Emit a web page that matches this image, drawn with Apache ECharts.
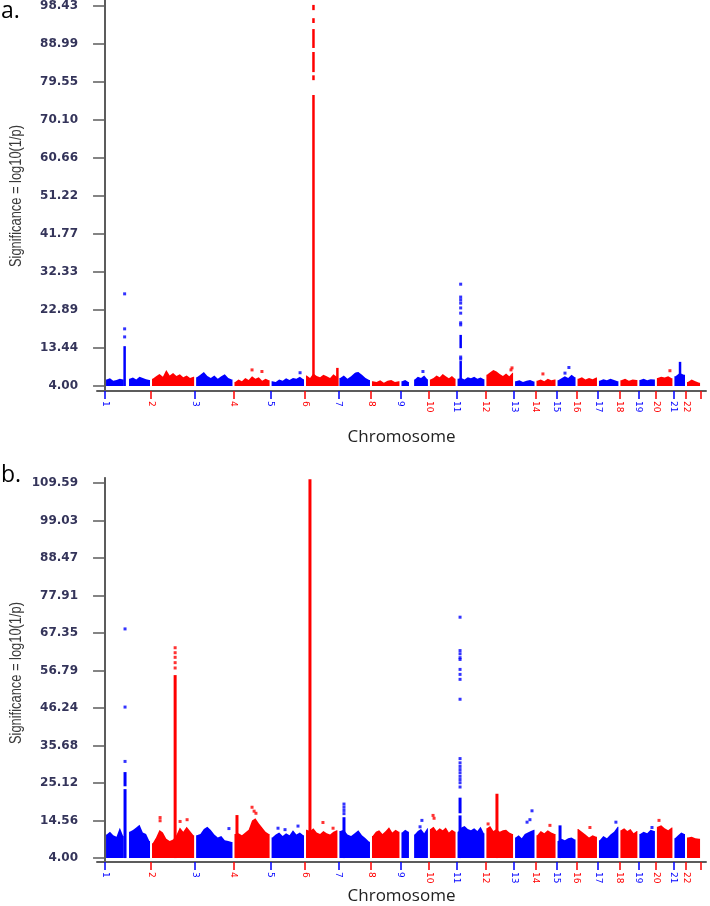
<!DOCTYPE html>
<html><head><meta charset="utf-8">
<script src="https://cdn.jsdelivr.net/npm/echarts@6/dist/echarts.min.js"></script>
<style>html,body{margin:0;padding:0;background:#fff}#c{width:710px;height:906px}</style>
</head><body><div id="c"></div>
<script>
// ---------------- data ----------------
const chromosomes = ['1','2','3','4','5','6','7','8','9','10','11','12','13','14','15','16','17','18','19','20','21','22'];
// cumulative genome position (Mb) at the start of each chromosome, plus end of chr22
const chrStarts = [0,223,437,623,803,970,1132,1290,1433,1571,1705,1845,1984,2088,2190,2287,2391,2495,2587,2672,2757,2818,2891];

const yTicksA = [4.00,13.44,22.89,32.33,41.77,51.22,60.66,70.10,79.55,88.99,98.43];
const yTicksB = [4.00,14.56,25.12,35.68,46.24,56.79,67.35,77.91,88.47,99.03,109.59];

// envelope of the dense band of SNPs in each chromosome (null = gap), panel a
const bandsA = [
  [5.6,5.9,5.3,5.5,5.8,5.6,null,5.8,6.1,5.6,6.3,6.0,5.7,5.5],
  [5.8,6.4,7.0,6.3,8.0,6.6,7.2,6.5,6.9,6.2,6.6,6.0,6.3],
  [6.2,6.8,7.5,6.5,6.0,6.6,5.8,6.4,6.9,6.0,5.6],
  [5.0,5.6,5.2,6.0,5.5,6.4,5.8,6.2,5.3,5.8,5.4],
  [5.2,5.0,5.6,5.3,5.9,5.5,6.0,5.8,6.3,5.7],
  [6.6,6.0,7.1,6.5,6.2,6.8,6.4,6.0,6.9,6.3],
  [6.0,6.6,5.8,6.4,7.2,7.5,6.8,6.0,5.5],
  [5.2,5.0,5.4,4.8,5.3,5.5,5.0,5.2],
  [5.2,5.5,5.0,null,5.6,6.3,6.0,6.6,5.7],
  [5.6,6.0,6.6,6.2,7.0,6.4,5.9,6.5,5.8],
  [5.8,6.0,5.6,6.2,5.9,6.3,5.8,6.1,5.7],
  [6.8,7.4,8.0,7.6,7.0,6.5,7.1,6.4,7.3],
  [5.2,5.4,5.0,5.3,5.5,5.1],
  [5.3,5.6,5.2,5.8,5.4,5.6],
  [5.4,5.9,6.4,6.0,6.8,6.2],
  [5.8,6.2,5.6,6.0,5.7,6.1],
  [5.3,5.7,5.4,5.8,5.5,5.2],
  [5.4,5.8,5.3,5.6,5.5],
  [5.5,5.8,5.4,5.7,5.6],
  [6.0,6.3,6.1,6.4,5.9],
  [6.4,7.2,6.8],
  [5.0,5.6,5.2,4.8]
];
// continuous runs of SNPs: [position, low, high], panel a
const spikesA = [
  [95,4,13.9],
  [1011,4,76.3],[1011,80,81.2],[1011,82,87],[1011,88,92.7],[1011,94.2,95.4],[1011,97.4,98.7],
  [1127,4,8.5],
  [1725,4,10.2],[1725,13.4,16.7],
  [2789,4,10.0]
];
// single SNPs: [position, significance], panel a
const dotsA = [
  [95,16.2],[95,18.2],[95,26.9],
  [713,8.0],[761,7.6],[946,7.3],[1222,7.0],[1542,7.6],
  [1725,10.7],[1725,11.2],[1725,19.2],[1725,19.7],[1725,22.1],[1725,23.4],[1725,24.6],[1725,25.4],[1725,26.1],[1725,29.3],
  [1974,8.5],[1969,8.0],[2124,7.0],[2250,8.6],[2231,7.2],[2740,7.8]
];

// panel b
const bandsB = [
  [10.6,11.4,10.4,10.0,12.5,10.2,null,11.4,11.9,12.6,13.4,11.2,10.8,8.8],
  [8.2,9.8,11.9,11.2,9.4,8.8,9.2,10.5,12.6,11.4,12.8,11.6,10.4],
  [10.4,10.8,12.2,12.8,11.9,10.6,9.8,10.2,9.0,8.8,8.5],
  [10.8,11.0,10.4,11.2,12.0,14.6,15.2,13.8,12.6,11.4,10.8],
  [9.8,10.6,11.2,10.2,11.0,10.4,11.8,10.6,11.2,10.4],
  [12.0,11.6,12.4,11.2,10.8,11.6,11.0,10.6,11.4,11.8],
  [11.6,12.0,10.6,10.2,11.0,11.8,10.4,9.6,8.6],
  [10.2,11.4,11.8,10.8,11.6,12.7,11.2,12.0,11.4],
  [11.2,12.0,11.4,null,10.6,11.6,12.2,11.0,12.4],
  [12.2,12.8,11.6,12.4,11.8,12.6,11.2,12.0,11.4],
  [11.4,12.6,13.0,12.2,11.8,12.4,11.6,12.8,11.0],
  [12.4,13.0,11.6,12.2,11.4,11.8,12.0,11.2,10.8],
  [9.8,10.4,9.6,10.8,11.2,11.6,12.0],
  [10.4,11.6,11.0,11.8,11.2,10.8],
  [8.8,9.4,9.0,9.6,9.8,9.2],
  [12.2,11.4,10.6,9.8,10.4,10.0],
  [9.0,10.2,9.6,10.6,11.4,12.8],
  [11.8,12.4,11.6,12.2,11.0,11.6],
  [10.8,11.4,11.0,12.0,11.6],
  [12.8,13.2,12.4,11.8,12.6],
  [9.6,10.4,11.2,10.8],
  [9.8,10.0,9.6,9.4]
];
const spikesB = [
  [97,4,23.4],[97,24.2,28.2],
  [340,4,55.5],
  [640,4,16.1],
  [994,4,110.6],
  [1159,4,15.5],
  [1722,4,16.0],[1722,16.6,21.0],
  [1901,4,22.1],
  [2207,4,13.2]
];
const dotsB = [
  [97,31.2],[97,46.5],[97,68.5],
  [340,57.5],[340,59.0],[340,60.5],[340,61.8],[340,63.2],
  [267,15.4],[267,14.5],[398,14.8],[364,14.3],[601,12.3],
  [713,18.3],[723,17.2],[732,16.6],
  [839,12.4],[873,12.0],[936,13.0],[1057,14.0],[1106,12.4],
  [1159,16.5],[1159,17.4],[1159,18.3],[1159,19.2],
  [1537,14.6],[1528,12.8],[1591,16.0],[1596,15.2],
  [1722,24.0],[1722,25.2],[1722,26.1],[1722,27.0],[1722,28.0],[1722,28.9],[1722,29.8],[1722,30.8],[1722,32.0],
  [1722,48.7],[1722,54.3],[1722,55.7],[1722,57.1],[1722,59.9],[1722,60.4],[1722,61.5],[1722,62.4],[1722,71.8],
  [1858,13.6],[2071,17.3],[2047,14.1],[2061,14.8],[2158,13.2],[2352,12.6],[2478,14.1],[2653,12.6],[2687,14.6]
];
const yAxisTitle = 'Significance = log10(1/p)';
const xAxisTitle = 'Chromosome';
const panelLetters = ['a.', 'b.'];

// ---------------- drawing ----------------
const BLUE = '#0000ff', RED = '#ff0000';
const AXIS = '#5c5c5c';
function chrIndexOf(pos){ for (let i = chrStarts.length - 2; i >= 0; i--) if (pos >= chrStarts[i]) return i; return 0; }
function colorOf(i){ return i % 2 === 0 ? BLUE : RED; }

// condensed y title: measure it and squeeze it to the reference length
const Y_TITLE_LEN = 142;
const yTitleFont = '17px "Liberation Sans", "Arimo", sans-serif';
const yTitleScale = (function(){
  const ctx = document.createElement('canvas').getContext('2d');
  ctx.font = yTitleFont;
  return Y_TITLE_LEN / ctx.measureText(yAxisTitle).width;
})();

function bandRenderer(bands){
  return function(params, api){
    const c = api.value(0);
    const vals = bands[c];
    const s = chrStarts[c], e = chrStarts[c+1];
    const step = (e - s) / vals.length;
    const yb = api.coord([0, 4])[1];
    const children = [];
    let seg = [];
    function flush(){
      if (!seg.length) return;
      const x0 = api.coord([seg[0][0] - step/2, 4])[0] + 1;
      const x1 = api.coord([seg[seg.length-1][0] + step/2, 4])[0] - 1;
      const pts = [[x0, yb], [x0, api.coord([0, seg[0][1]])[1]]];
      seg.forEach(p => { const q = api.coord(p); pts.push([Math.min(Math.max(q[0], x0), x1), q[1]]); });
      pts.push([x1, api.coord([0, seg[seg.length-1][1]])[1]]);
      pts.push([x1, yb]);
      children.push({type:'polygon', shape:{points:pts}, style:{fill:colorOf(c)}});
      seg = [];
    }
    vals.forEach((v, i) => { if (v == null) flush(); else seg.push([s + (i + 0.5) * step, v]); });
    flush();
    return {type:'group', children};
  };
}
function spikeRenderer(w){
  return function(params, api){
    const pos = api.value(0);
    const top = api.coord([pos, api.value(2)]);
    const bot = api.coord([pos, api.value(1)]);
    return {type:'rect', shape:{x: top[0] - w/2, y: top[1], width: w, height: Math.max(1, bot[1] - top[1])},
            style:{fill: colorOf(chrIndexOf(pos))}};
  };
}

const X_MIN = -39, X_MAX = 2915;
const oddStarts = chrStarts.filter((v, i) => i < 22 && i % 2 === 0);
const evenStarts = chrStarts.filter((v, i) => i < 22 && i % 2 === 1);
const evenTicks = evenStarts.concat([chrStarts[22]]);
function chrLabel(v){ const i = chrStarts.indexOf(Math.round(v)); return i >= 0 && i < 22 ? chromosomes[i] : ''; }

const panels = [
  {ticks: yTicksA, bands: bandsA, spikes: spikesA, dots: dotsA, top: 0, height: 391, padLow: 5, padHigh: 6, xNameGap: 38, spikeW: 2.5, letterTop: 0},
  {ticks: yTicksB, bands: bandsB, spikes: spikesB, dots: dotsB, top: 478, height: 389, padLow: 4, padHigh: 5, xNameGap: 26, spikeW: 3, letterTop: 464}
];

const grid = [], xAxis = [], yAxis = [], series = [], graphic = [];
panels.forEach((p, g) => {
  grid.push({left: 97, right: 4, top: p.top, height: p.height});
  const t = p.ticks;
  const pxPerUnit = 380 / (t[t.length-1] - t[0]);
  const yMin = t[0] - p.padLow / pxPerUnit;
  const yMax = t[t.length-1] + p.padHigh / pxPerUnit;
  xAxis.push({type:'value', gridIndex:g, min:X_MIN, max:X_MAX, position:'bottom',
    axisLine:{show:true, lineStyle:{color:AXIS, width:2}}, axisTick:{show:false}, axisLabel:{show:false}, splitLine:{show:false},
    name:xAxisTitle, nameLocation:'middle', nameGap:p.xNameGap,
    nameTextStyle:{fontFamily:'Open Sans', fontSize:17, color:'#222'}});
  [[oddStarts, oddStarts, BLUE], [evenTicks, evenStarts, RED]].forEach(([tk, lb, col]) => {
    xAxis.push({type:'value', gridIndex:g, min:X_MIN, max:X_MAX, position:'bottom',
      axisLine:{show:false}, splitLine:{show:false},
      axisTick:{show:true, length:8, customValues:tk, lineStyle:{color:col, width:1.5}},
      axisLabel:{show:true, customValues:lb, formatter:chrLabel, rotate:-90, margin:10,
        fontFamily:'DejaVu Sans', fontSize:9, color:col}});
  });
  yAxis.push({type:'value', gridIndex:g, min:yMin, max:yMax,
    axisLine:{show:true, lineStyle:{color:AXIS, width:2}},
    axisTick:{show:true, length:12, customValues:t, lineStyle:{color:AXIS, width:1.5}},
    axisLabel:{show:true, customValues:t, formatter:v => v.toFixed(2), margin:19,
      fontFamily:'DejaVu Sans', fontWeight:'bold', fontSize:12, color:'#34345a'},
    splitLine:{show:false}});
  yAxis.push({type:'value', gridIndex:g, min:yMin, max:yMax, position:'right',
    axisLine:{show:true, lineStyle:{color:AXIS, width:1.5}}, axisTick:{show:false}, axisLabel:{show:false}, splitLine:{show:false}});
  const xi = g * 3, yi = g * 2;
  series.push({type:'custom', xAxisIndex:xi, yAxisIndex:yi, renderItem:bandRenderer(p.bands),
    data: chromosomes.map((c, i) => [i, 4]), encode:{x:0, y:1}, silent:true});
  series.push({type:'custom', xAxisIndex:xi, yAxisIndex:yi, renderItem:spikeRenderer(p.spikeW),
    data: p.spikes, encode:{x:0, y:[1,2]}, silent:true});
  series.push({type:'scatter', xAxisIndex:xi, yAxisIndex:yi, data:p.dots, symbol:'rect', symbolSize:3,
    itemStyle:{color: prm => colorOf(chrIndexOf(prm.value[0]))}, silent:true});
  // y title centred between the lowest and highest tick, condensed along its length
  const yMid = p.top + p.padHigh + 190;
  graphic.push({type:'text', x:16, y:yMid, rotation:Math.PI/2, scaleX:yTitleScale,
    style:{text:yAxisTitle, font:yTitleFont, fill:'#3a3a3a', align:'center', verticalAlign:'middle'}});
  graphic.push({type:'text', left:1, top:p.letterTop, style:{text:panelLetters[g], font:'23px "Open Sans"', fill:'#000'}});
});

const chart = echarts.init(document.getElementById('c'), null, {renderer:'canvas'});
chart.setOption({animation:false, backgroundColor:'#fff', grid, xAxis, yAxis, series, graphic});
</script></body></html>
